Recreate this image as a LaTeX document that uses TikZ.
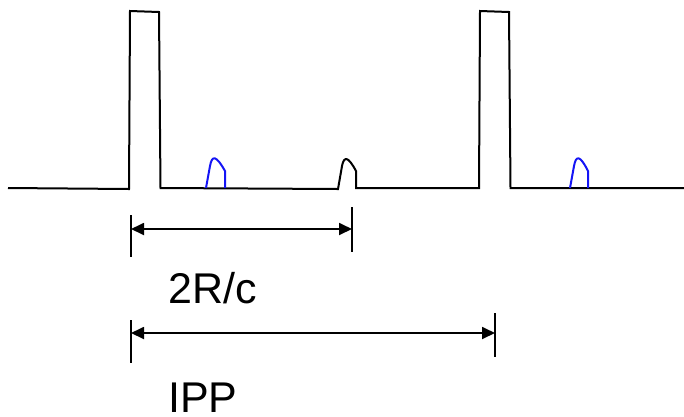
\documentclass[tikz,border=0pt]{standalone}
\usepackage{fontspec}
\setmainfont{Liberation Sans}
\usetikzlibrary{arrows.meta}
\begin{document}
\begin{tikzpicture}[x=1pt,y=-1pt,
  wave/.style={line width=2pt,line join=miter},
  echo/.style={line width=2pt,draw={rgb,255:red,20;green,20;blue,245}},
  tick/.style={line width=1.8pt},
  span/.style={line width=1.8pt,{Triangle[length=13pt,width=12pt]}-{Triangle[length=13pt,width=12pt]}},
  lbl/.style={font=\fontsize{43}{43}\selectfont,anchor=base west,inner sep=0pt,text depth=0pt}]
\useasboundingbox (0,0) rectangle (684,416);
% waveform
\draw[wave] (8,188) -- (129,189) -- (130,11) -- (159,12) -- (160.5,188) -- (338,189)
  -- (342,166) .. controls (344,156) and (348,156) .. (356,171) -- (356,188)
  -- (479,188) -- (480,11) -- (509,12) -- (510.5,188) -- (684,188);
% echoes
\draw[echo] (206,188) -- (210,166) .. controls (212,155) and (216,155) .. (225,171) -- (225,188);
\draw[echo] (570,188) -- (574,166) .. controls (576,155) and (580,155) .. (588,171) -- (588,188);
% 2R/c span
\coordinate (a1t) at (131,215); \coordinate (a1b) at (131,257);
\coordinate (b1t) at (352,207); \coordinate (b1b) at (352,252);
\coordinate (a1) at (131,229); \coordinate (b1) at (352,229);
\draw[tick] (a1t) -- (a1b);
\draw[tick] (b1t) -- (b1b);
\draw[span] (a1) -- (b1);
\node[lbl] (l1) at (168,303) {2R/c};
% IPP span
\coordinate (a2t) at (131,320); \coordinate (a2b) at (131,363);
\coordinate (b2t) at (495,313); \coordinate (b2b) at (495,357);
\coordinate (a2) at (131,333); \coordinate (b2) at (495,333);
\draw[tick] (a2t) -- (a2b);
\draw[tick] (b2t) -- (b2b);
\draw[span] (a2) -- (b2);
\node[lbl] (l2) at (168,412) {IPP};
\end{tikzpicture}
\end{document}
